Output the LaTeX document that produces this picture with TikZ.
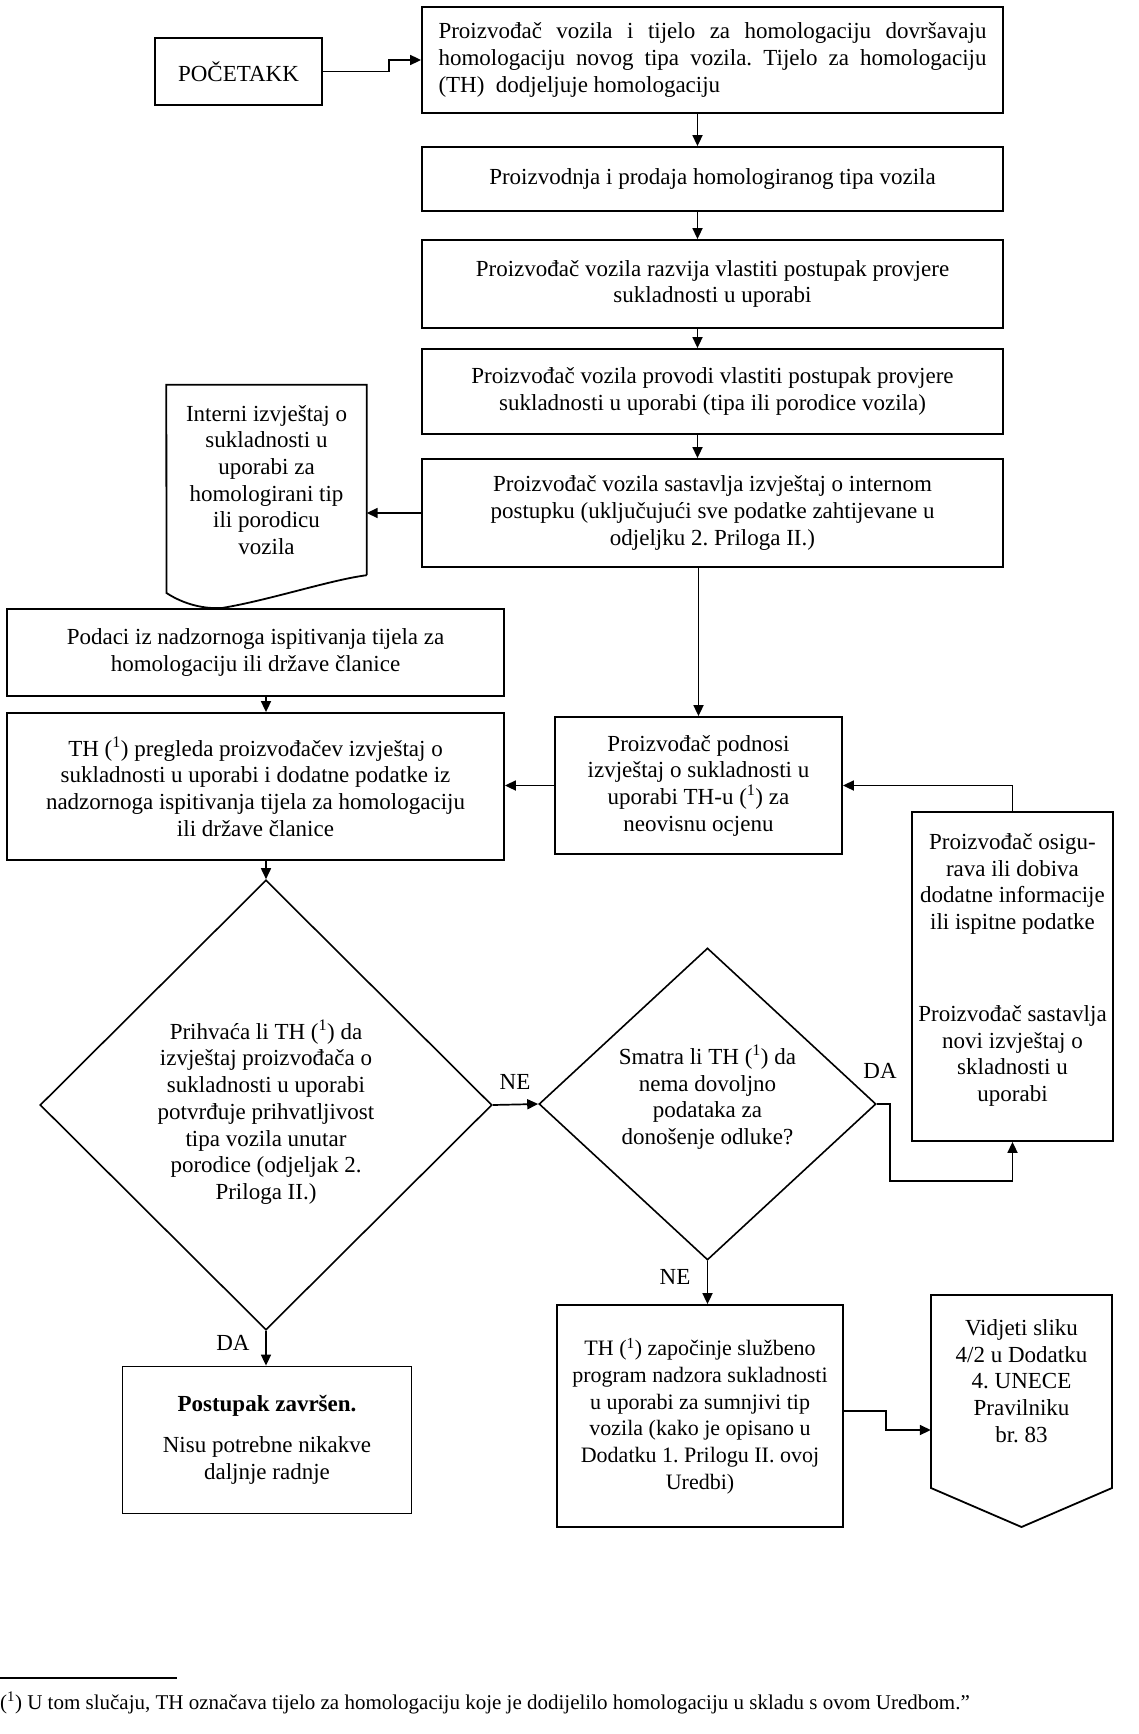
\documentclass[tikz,border=0pt]{standalone}
\usepackage{fontspec}
\setmainfont{Liberation Serif}
\usetikzlibrary{arrows.meta,shapes.geometric}
\begin{document}
\frenchspacing
\begin{tikzpicture}[x=1pt,y=-1pt,
  font=\fontsize{23}{26.7}\selectfont,
  box/.style={draw,line width=1.8pt,inner sep=0pt,align=center},
  dia/.style={draw,diamond,aspect=1,line width=1.6pt,inner sep=0pt},
  txt/.style={inner sep=0pt,align=center},
  arr/.style={line width=1.7pt,-{Triangle[length=11pt,width=10pt]}},
  ln/.style={line width=1.8pt}]
\useasboundingbox (0,0) rectangle (1138,1734);

% boxes
\node[box,minimum width=167pt,minimum height=67pt] (start) at (238.5,71.5) {POČETAKK};
\node[box,minimum width=581pt,minimum height=106pt,text width=548pt,align=justify] (b1) at (712.5,60)
 {Proizvođač vozila i tijelo za homologaciju dovršavaju\linebreak
  homologaciju novog tipa vozila. Tijelo za homologaciju\linebreak
  (TH)\ \ dodjeljuje homologaciju};
\node[box,minimum width=581pt,minimum height=64pt] (b2) at (712.5,179)
 {Proizvodnja i prodaja homologiranog tipa vozila};
\node[box,minimum width=581pt,minimum height=88pt] (b3) at (712.5,284)
 {Proizvođač vozila razvija vlastiti postupak provjere\\ sukladnosti u uporabi};
\node[box,minimum width=581pt,minimum height=85pt] (b4) at (712.5,391.5)
 {Proizvođač vozila provodi vlastiti postupak provjere\\ sukladnosti u uporabi (tipa ili porodice vozila)};
\node[box,minimum width=581pt,minimum height=108pt] (b5) at (712.5,513)
 {Proizvođač vozila sastavlja izvještaj o internom\\ postupku (uključujući sve podatke zahtijevane u\\ odjeljku 2. Priloga II.)};

% document shape
\node[txt,minimum width=200pt,minimum height=190pt] (doc) at (266.5,480)
 {Interni izvještaj o\\ sukladnosti u\\ uporabi za\\ homologirani tip\\ ili porodicu\\ vozila};
\draw[ln] (doc.south east) -- (doc.north east) -- (doc.north west) -- (166.5,593)
  .. controls (185,605) and (205,609) .. (222,608)
  .. controls (270,600) and (330,580) .. (doc.south east);

\node[box,minimum width=497pt,minimum height=87pt] (podaci) at (255.5,652.5)
 {Podaci iz nadzornoga ispitivanja tijela za\\ homologaciju ili države članice};
\node[box,minimum width=497pt,minimum height=147pt] (thp) at (255.5,786.5)
 {TH (\textsuperscript{1}) pregleda proizvođačev izvještaj o\\ sukladnosti u uporabi i dodatne podatke iz\\ nadzornoga ispitivanja tijela za homologaciju\\ ili države članice};
\node[box,minimum width=287pt,minimum height=137pt] (podnosi) at (698.5,785.5)
 {Proizvođač podnosi\\ izvještaj o sukladnosti u\\ uporabi TH-u (\textsuperscript{1}) za\\ neovisnu ocjenu};
\node[box,minimum width=201pt,minimum height=329pt] (osig) at (1012.5,976.5) {};
\node[txt] (osigA) at (1012.5,884) {Proizvođač osigu-\\ rava ili dobiva\\ dodatne informacije\\ ili ispitne podatke};
\node[txt] (osigB) at (1012.5,1056) {Proizvođač sastavlja\\ novi izvještaj o\\ skladnosti u\\ uporabi};

% diamonds
\node[dia,minimum width=452pt,minimum height=450pt] (d1) at (266,1105) {};
\node[txt] (d1t) at (266,1112)
 {Prihvaća li TH (\textsuperscript{1}) da\\ izvještaj proizvođača o\\ sukladnosti u uporabi\\ potvrđuje prihvatljivost\\ tipa vozila unutar\\ porodice (odjeljak 2.\\ Priloga II.)};
\node[dia,minimum width=337pt,minimum height=312pt] (d2) at (707.5,1104) {};
\node[txt] (d2t) at (707.5,1097)
 {Smatra li TH (\textsuperscript{1}) da\\ nema dovoljno\\ podataka za\\ donošenje odluke?};

\node[box,minimum width=289pt,minimum height=147pt] (post) at (267,1440)
 {\textbf{Postupak završen.}\\[14pt] Nisu potrebne nikakve\\ daljnje radnje};
\node[box,minimum width=286pt,minimum height=222pt,font=\fontsize{22}{26.7}\selectfont] (thz) at (700,1416)
 {TH (\textsuperscript{1}) započinje službeno\\ program nadzora sukladnosti\\ u uporabi za sumnjivi tip\\ vozila (kako je opisano u\\ Dodatku 1. Prilogu II. ovoj\\ Uredbi)};
\node[txt,minimum width=181pt] (vid) at (1021.5,1381)
 {Vidjeti sliku\\ 4/2 u Dodatku\\ 4. UNECE\\ Pravilniku\\ br. 83};
\draw[ln] (931,1295) -- (1112,1295) -- (1112,1488) -- (1021.5,1527) -- (931,1488) -- cycle;

% labels
\node[txt] (ne1) at (515,1082) {NE};
\node[txt] (da1) at (880,1071) {DA};
\node[txt] (ne2) at (675,1277) {NE};
\node[txt] (da2) at (233,1343) {DA};

% connectors
\draw[arr] (start.east) -- ++(66,0) |- (b1.west);
\draw[arr] ([xshift=-15pt]b1.south) -- ([xshift=-15pt]b2.north);
\draw[arr] ([xshift=-15pt]b2.south) -- ([xshift=-15pt]b3.north);
\draw[arr] ([xshift=-15pt]b3.south) -- ([xshift=-15pt]b4.north);
\draw[arr] ([xshift=-15pt]b4.south) -- ([xshift=-15pt]b5.north);
\draw[arr] (b5.west) -- (b5.west -| doc.east);
\draw[arr] (b5.south -| podnosi.north) -- (podnosi.north);
\draw[arr] (podaci.south -| d1.north) -- (thp.north -| d1.north);
\draw[arr] (podnosi.west) -- (podnosi.west -| thp.east);
\draw[arr] (thp.south -| d1.north) -- (d1.north);
\draw[arr] (d1.east) -- (d2.west);
\coordinate (j1) at (890,1181);
\draw[arr] (d2.east) -| (j1) -| (osig.south);
\draw[arr] (osig.north) |- (podnosi.east);
\draw[arr] (d2.south) -- (d2.south |- thz.north);
\draw[arr] (d1.south) -- (d1.south |- post.north);
\coordinate (j3) at (886,1411);
\coordinate (j4) at (886,1430);
\draw[arr] (thz.east |- j3) -- (j3) -- (j4) -- (j4 -| vid.west);

% footnote
\coordinate (fa) at (0,1678);
\coordinate (fb) at (177,1678);
\draw[ln] (fa) -- (fb);
\node[inner sep=0pt,anchor=west,font=\fontsize{21}{24}\selectfont] (fn) at (0,1703)
 {(\textsuperscript{1}) U tom slučaju, TH označava tijelo za homologaciju koje je dodijelilo homologaciju u skladu s ovom Uredbom.”};
\end{tikzpicture}
\end{document}
